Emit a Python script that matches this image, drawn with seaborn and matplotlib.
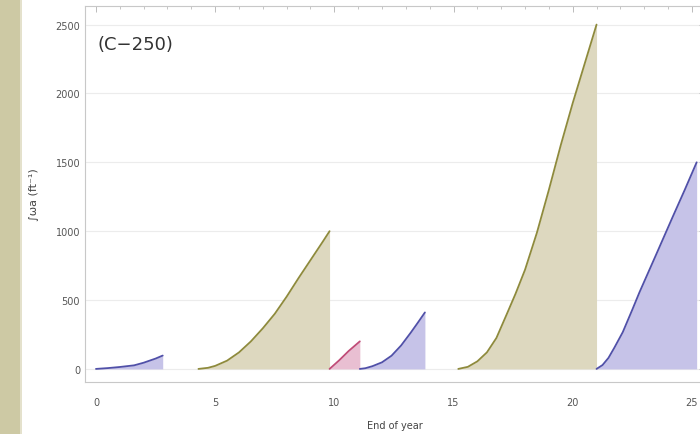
import matplotlib
matplotlib.use("Agg")
import matplotlib.pyplot as plt
import seaborn as sns
import pandas as pd
from matplotlib.ticker import MultipleLocator
from matplotlib.patches import Rectangle

# ---- data ----
seg1_x = [0.0, 0.5, 1.0, 1.6, 2.0, 2.5, 2.8]
seg1_y = [0, 6, 14, 26, 45, 75, 97]
seg2_x = [4.3, 4.7, 5.0, 5.5, 6.0, 6.5, 7.0, 7.5, 8.0, 8.5, 9.0, 9.5, 9.8]
seg2_y = [0, 8, 22, 60, 120, 200, 295, 400, 525, 660, 790, 920, 1000]
seg3_x = [9.8, 10.2, 10.6, 11.07]
seg3_y = [0, 62, 130, 200]
seg4_x = [11.07, 11.3, 11.6, 12.0, 12.4, 12.8, 13.2, 13.5, 13.8]
seg4_y = [0, 5, 20, 48, 96, 170, 262, 335, 410]
seg5_x = [15.2, 15.6, 16.0, 16.4, 16.8, 17.24, 17.6, 18.0, 18.5, 19.0,
          19.5, 20.0, 20.5, 21.0]
seg5_y = [0, 15, 55, 120, 225, 400, 545, 720, 990, 1300,
          1625, 1930, 2215, 2500]
seg6_x = [21.0, 21.25, 21.5, 21.75, 22.1, 22.5, 22.8, 23.5, 24.2, 24.7, 25.2]
seg6_y = [0, 28, 80, 155, 267, 430, 556, 830, 1106, 1300, 1500]

segments = [
    (seg1_x, seg1_y, "blue"),
    (seg2_x, seg2_y, "olive"),
    (seg3_x, seg3_y, "pink"),
    (seg4_x, seg4_y, "blue"),
    (seg5_x, seg5_y, "olive"),
    (seg6_x, seg6_y, "blue"),
]
line_colors = {"olive": "#8e8a3c", "blue": "#5050a8", "pink": "#c04c78"}
fill_colors = {"olive": "#ddd8bf", "blue": "#c6c3e8", "pink": "#e9bfd2"}

x_ticks = [0, 5, 10, 15, 20, 25]
y_ticks = [0, 500, 1000, 1500, 2000, 2500]
panel_label = "(C\u2212250)"
x_label = "End of year"
y_label = "\u222b\u03c9a (ft\u207b\u00b9)"

sns.set_style("white")
plt.rcParams["font.family"] = ["DejaVu Sans"]

fig = plt.figure(figsize=(7, 4.35), dpi=100)
fig.patch.set_facecolor("white")
# beige strip on the left
fig.patches.append(Rectangle((0, 0), 20 / 700, 1, transform=fig.transFigure,
                             facecolor="#cdc9a4", edgecolor="none", zorder=0))
fig.patches.append(Rectangle((20 / 700, 0), 2 / 700, 1, transform=fig.transFigure,
                             facecolor="#e4e1cc", edgecolor="none", zorder=0))

ax = fig.add_axes([85 / 700, 1 - 383 / 435, (705 - 85) / 700, (383 - 7) / 435])

for xs, ys, c in segments:
    df = pd.DataFrame({"x": xs, "y": ys})
    ax.fill_between(xs, 0, ys, color=fill_colors[c], linewidth=0, zorder=1)
    sns.lineplot(data=df, x="x", y="y", ax=ax, color=line_colors[c],
                 linewidth=1.3, sort=False, zorder=3)

ax.set_xlim(-0.46, 25.55)
ax.set_ylim(-95, 2635)
ax.set_xticks(x_ticks)
ax.set_yticks(y_ticks)
ax.xaxis.set_minor_locator(MultipleLocator(1))
ax.yaxis.set_minor_locator(MultipleLocator(100))
for yv in y_ticks:
    ax.axhline(yv, color="#ececec", linewidth=0.8, zorder=0)

for s in ax.spines.values():
    s.set_color("#c8c8c8")
    s.set_linewidth(0.8)
ax.tick_params(axis="both", which="both", direction="in", colors="#bbbbbb",
               labelcolor="#555555", labelsize=7, top=True, right=True)
ax.tick_params(which="major", length=4, width=0.7)
ax.tick_params(which="minor", length=2, width=0.6)
ax.tick_params(axis="x", pad=11)

ax.set_xlabel(x_label, fontsize=7, color="#444444", labelpad=9)
ax.set_ylabel(y_label, fontsize=8, color="#444444", labelpad=12)
ax.text(0.02, 0.90, panel_label, transform=ax.transAxes, fontsize=13,
        color="#333333", va="center", ha="left")

fig.savefig("out.png", dpi=100)
